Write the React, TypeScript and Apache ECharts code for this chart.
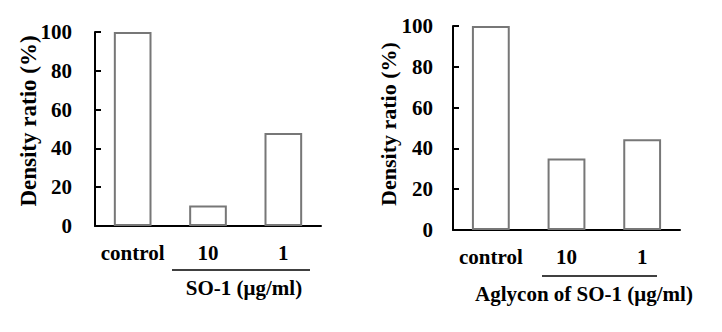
import React, { useEffect, useRef } from "react";
import * as echarts from "echarts";

const categories = ["control", "10", "1"];
const so1Values = [100, 10.6, 47.9];
const aglyconValues = [100, 35.1, 44.5];
const yTicks = [0, 20, 40, 60, 80, 100];
const yTitle = "Density ratio (%)";
const leftSubtitle = "SO-1 (μg/ml)";
const rightSubtitle = "Aglycon of SO-1 (μg/ml)";

const FONT = "Liberation Serif";

export default function App() {
  const ref = useRef<HTMLDivElement>(null);
  useEffect(() => {
    if (!ref.current) return;
    const chart = echarts.init(ref.current, null, { renderer: "svg" });
    const labelStyle = {
      fontFamily: FONT,
      fontWeight: "bold" as const,
      fontSize: 21,
      color: "#000",
    };
    const txt = (size: number) => ({
      fontFamily: FONT,
      fontWeight: "bold" as const,
      fontSize: size,
      fill: "#000",
      align: "center" as const,
      verticalAlign: "middle" as const,
    });
    const mkX = (gridIndex: number) => ({
      type: "category" as const,
      gridIndex,
      data: categories,
      boundaryGap: true,
      axisLine: { show: true, lineStyle: { color: "#000", width: 2 } },
      axisTick: { show: false },
      axisLabel: { ...labelStyle, margin: 16, interval: 0 },
    });
    const mkY = (gridIndex: number, margin: number) => ({
      type: "value" as const,
      gridIndex,
      min: yTicks[0],
      max: yTicks[yTicks.length - 1],
      interval: yTicks[1] - yTicks[0],
      splitLine: { show: false },
      axisLine: { show: true, lineStyle: { color: "#000", width: 2 } },
      axisTick: { show: true, inside: true, length: 6, lineStyle: { color: "#000", width: 2 } },
      axisLabel: { ...labelStyle, margin },
    });
    const barStyle = {
      color: "#fff",
      borderColor: "#777",
      borderWidth: 2,
    };
    chart.setOption({
      animation: false,
      backgroundColor: "#fff",
      grid: [
        { left: 95, top: 32, width: 226, height: 194 },
        { left: 453, top: 26, width: 227, height: 204 },
      ],
      xAxis: [mkX(0), mkX(1)],
      yAxis: [mkY(0, 23), mkY(1, 20)],
      series: [
        {
          type: "bar",
          xAxisIndex: 0,
          yAxisIndex: 0,
          data: so1Values,
          barWidth: "50%",
          itemStyle: barStyle,
        },
        {
          type: "bar",
          xAxisIndex: 1,
          yAxisIndex: 1,
          data: aglyconValues,
          barWidth: "50%",
          itemStyle: barStyle,
        },
      ],
      graphic: [
        {
          type: "text",
          x: 28,
          y: 121,
          rotation: Math.PI / 2,
          style: { text: yTitle, ...txt(23) },
        },
        {
          type: "text",
          x: 388,
          y: 124,
          rotation: Math.PI / 2,
          style: { text: yTitle, ...txt(22) },
        },
        {
          type: "line",
          shape: { x1: 172, y1: 270, x2: 310, y2: 270 },
          style: { stroke: "#000", lineWidth: 1.5 },
        },
        {
          type: "line",
          shape: { x1: 542, y1: 276, x2: 657, y2: 276 },
          style: { stroke: "#000", lineWidth: 1.5 },
        },
        {
          type: "text",
          x: 244,
          y: 288,
          style: { text: leftSubtitle, ...txt(21) },
        },
        {
          type: "text",
          x: 584,
          y: 294,
          style: { text: rightSubtitle, ...txt(21) },
        },
      ],
    });
    return () => chart.dispose();
  }, []);
  return (
    <div
      ref={ref}
      style={{ position: "absolute", left: 0, top: 0, width: 722, height: 332 }}
    />
  );
}
